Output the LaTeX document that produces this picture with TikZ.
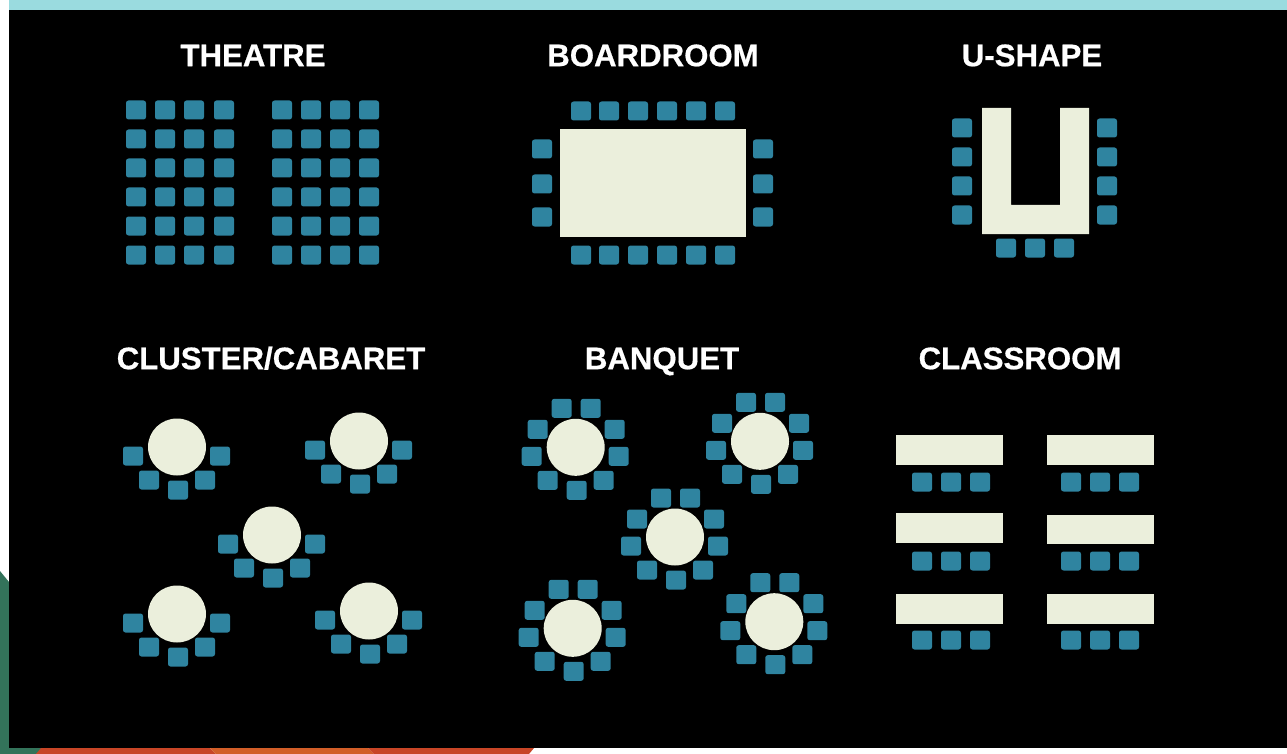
\documentclass[tikz,border=0pt]{standalone}
\usepackage{fontspec}
\setmainfont[BoldFeatures={FakeBold=0.6}]{Liberation Sans}
\definecolor{seatblue}{HTML}{2F84A0}
\definecolor{tablecream}{HTML}{EBEFDC}
\definecolor{topbar}{HTML}{9ADBDF}
\definecolor{gr}{HTML}{33735A}
\definecolor{redA}{HTML}{C84526}
\definecolor{redB}{HTML}{D25E28}
\tikzset{
  seat/.style={fill=seatblue,rounded corners=2.5pt},
  heading/.style={text=white,font=\bfseries\fontsize{31.2}{33}\selectfont,anchor=base,inner sep=0pt}
}
\newcommand{\seatat}[2]{\path[seat] (#1-10,#2-9.5) rectangle (#1+10,#2+9.5);}
\newcommand{\roundtable}[2]{\fill[tablecream] (#1,#2) ellipse [x radius=29,y radius=28.5];}
\newcommand{\cluster}[2]{\roundtable{#1}{#2}%
  \foreach \dx/\dy in {-44/9,43/9,-28/33,1/43,28/33}{\seatat{#1+\dx}{#2+\dy}}}
\newcommand{\banquet}[2]{\roundtable{#1}{#2}%
  \foreach \dx/\dy in {-14/-39,15/-39,-38/-18,39/-18,-44/9,43/9,-28/33,1/43,28/33}{\seatat{#1+\dx}{#2+\dy}}}
\begin{document}
\begin{tikzpicture}[x=1pt,y=-1pt]
\useasboundingbox (0,0) rectangle (1287,754);
\fill[white] (0,0) rectangle (1287,754);
% edge strips
\fill[gr] (0,571) -- (9,582) -- (9,754) -- (0,754) -- cycle;
\fill[gr] (0,748) rectangle (41,754);
\fill[redA] (41,748) -- (210,748) -- (216,754) -- (36,754) -- cycle;
\fill[redB] (210,748) -- (368,748) -- (374,754) -- (216,754) -- cycle;
\fill[redA] (368,748) -- (534,748) -- (529,754) -- (374,754) -- cycle;
\fill[topbar] (9,0) rectangle (1287,10.5);
\fill[black] (9,10.5) rectangle (1287,748);
% headings
\node[heading] (theatre) at (253,66.2) {THEATRE};
\node[heading] (boardroom) at (653,66.2) {BOARDROOM};
\node[heading] (ushape) at (1032,66.2) {U-SHAPE};
\node[heading] (cluster) at (271,369.2) {CLUSTER/CABARET};
\node[heading] (banquet) at (662,369.2) {BANQUET};
\node[heading] (classroom) at (1020,369.2) {CLASSROOM};
% theatre
\foreach \y in {110,139,168,197,226,255}{
  \foreach \x in {136,165,194,224,282,311,340,369}{\seatat{\x}{\y}}}
% boardroom
\fill[tablecream] (560,129) rectangle (746,237);
\foreach \x in {581,609,638,667,696,725}{\seatat{\x}{111}\seatat{\x}{255}}
\foreach \y in {149,184,217}{\seatat{542}{\y}\seatat{763}{\y}}
% u-shape
\fill[tablecream] (982,108) -- (1011,108) -- (1011,205) -- (1060,205) -- (1060,108) -- (1089,108) -- (1089,234) -- (982,234) -- cycle;
\foreach \y in {128,157,186,215}{\seatat{962}{\y}\seatat{1107}{\y}}
\foreach \x in {1006,1035,1064}{\seatat{\x}{248}}
% cluster
\cluster{177}{447}
\cluster{359}{441}
\cluster{272}{535}
\cluster{177}{614}
\cluster{369}{611}
% banquet
\banquet{575.7}{447.3}
\banquet{760}{441.3}
\banquet{675}{537}
\banquet{572.7}{628.3}
\banquet{774.3}{621.7}
% classroom
\fill[tablecream] (896,435) rectangle (1003,465);
\fill[tablecream] (1047,435) rectangle (1154,465);
\fill[tablecream] (896,513) rectangle (1003,543);
\fill[tablecream] (1047,515) rectangle (1154,544);
\fill[tablecream] (896,594) rectangle (1003,624);
\fill[tablecream] (1047,594) rectangle (1154,624);
\foreach \y in {482,561,640}{
  \foreach \x in {922,951,980,1071,1100,1129}{\seatat{\x}{\y}}}
\end{tikzpicture}
\end{document}
